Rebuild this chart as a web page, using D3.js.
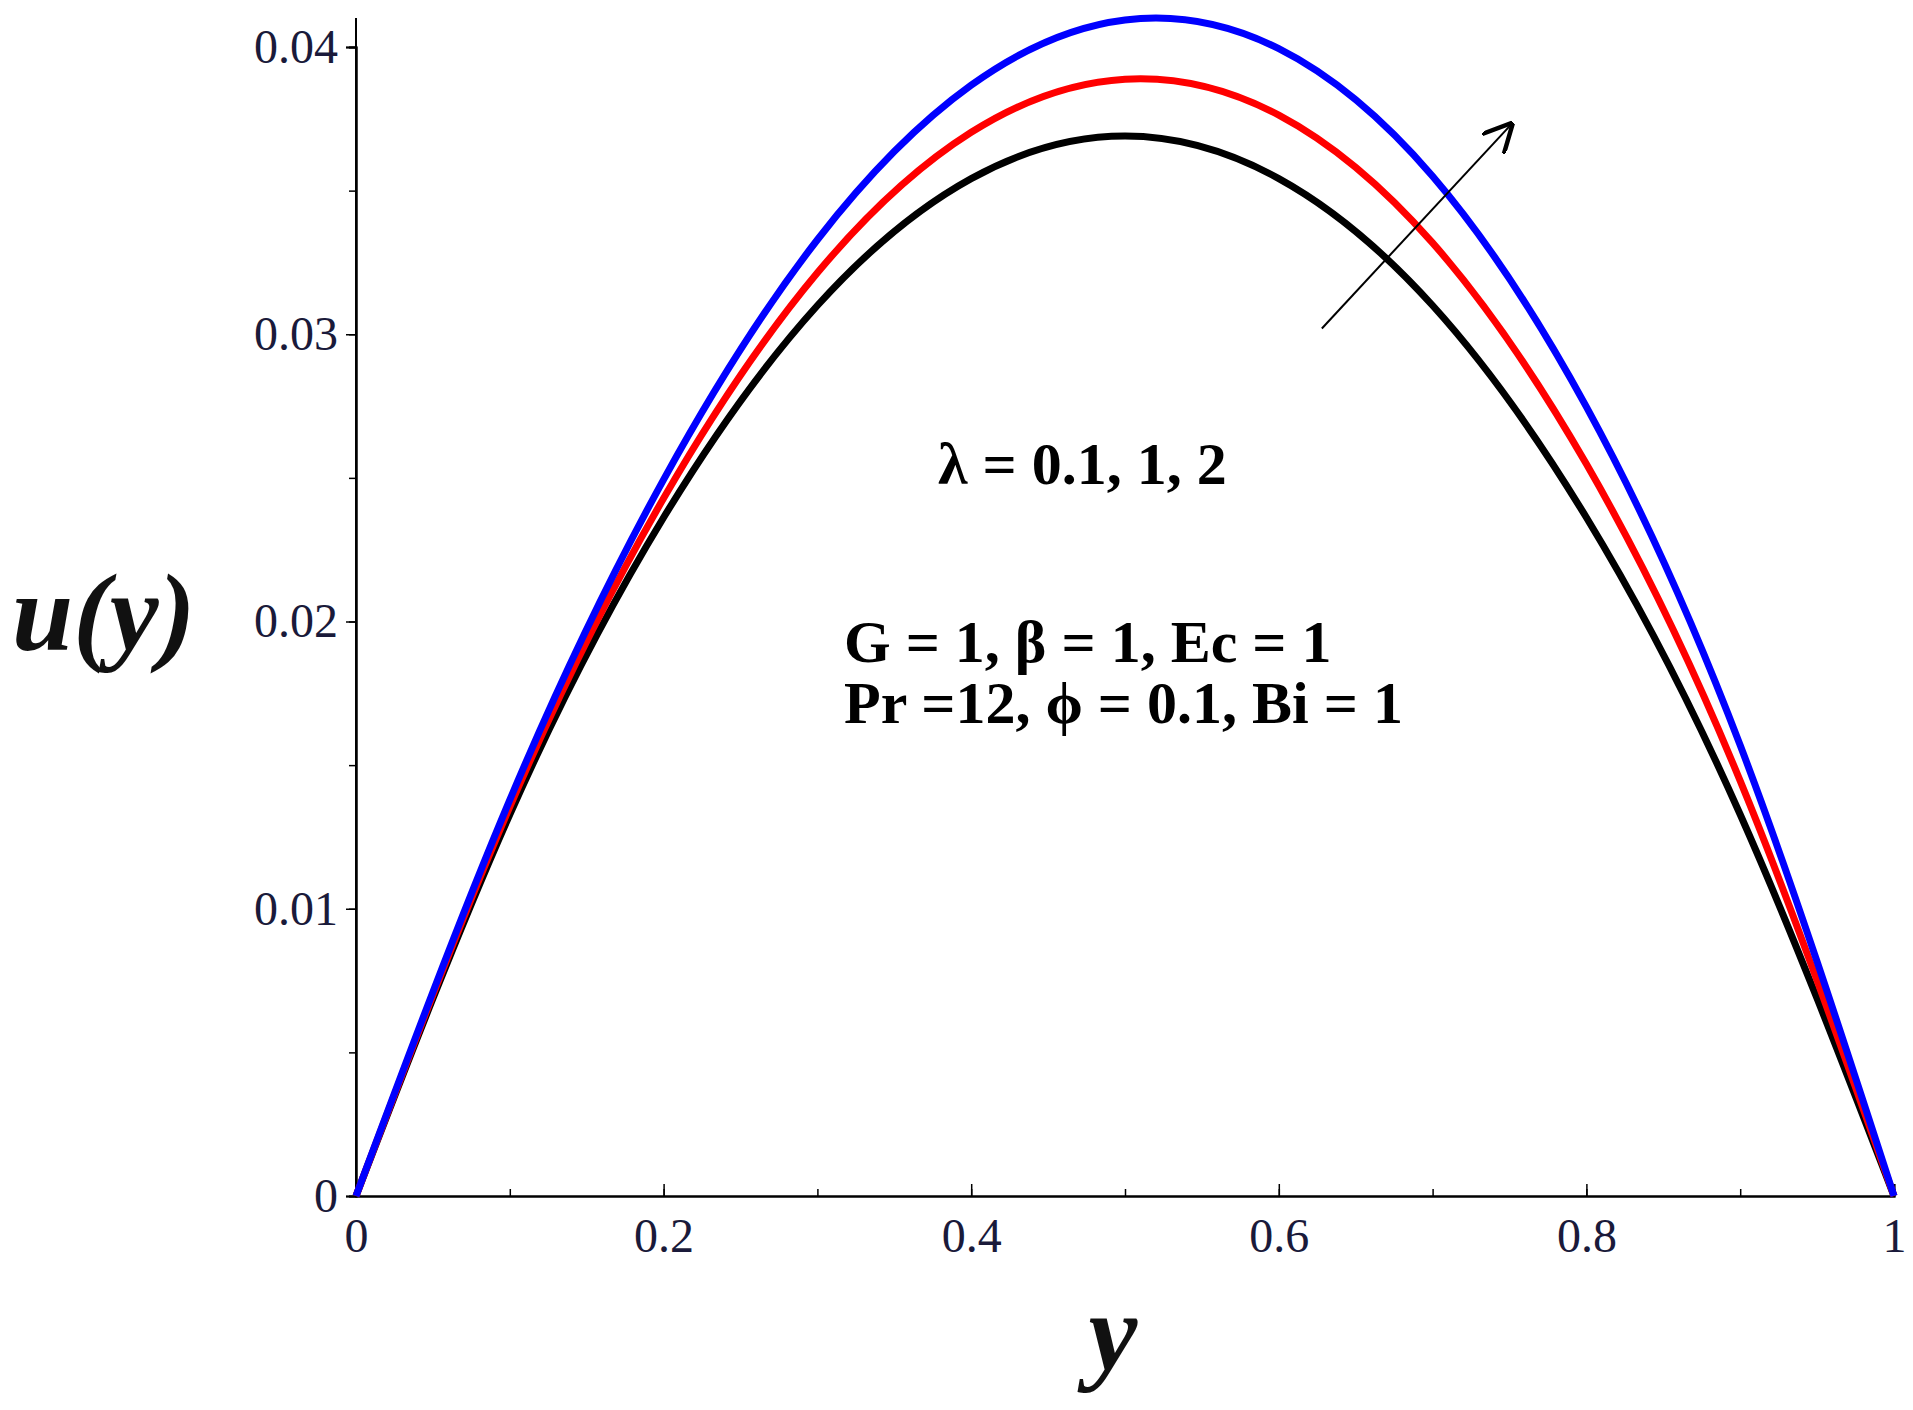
<!DOCTYPE html><html><head><meta charset="utf-8"><script src="https://d3js.org/d3.v7.min.js"></script>
<style>body{margin:0;background:#fff}</style></head><body><svg id="c" width="1913" height="1410"></svg><script>
const xs=[0,0.1,0.2,0.3,0.4,0.5,0.6,0.7,0.8,0.9,1];
const black=[0,0.01328,0.02362,0.03100,0.03542,0.0369,0.03542,0.03100,0.02362,0.01328,0];
const red=[0,0.01355,0.02429,0.03214,0.03703,0.03888,0.03763,0.03318,0.02548,0.01445,0];
const blue=[0,0.01379,0.02494,0.03329,0.03867,0.04094,0.03994,0.03550,0.02747,0.01569,0];
const xTicks=[0,0.2,0.4,0.6,0.8,1];
const xTickLabels=["0","0.2","0.4","0.6","0.8","1"];
const yTicks=[0,0.01,0.02,0.03,0.04];
const yTickLabels=["0","0.01","0.02","0.03","0.04"];
const svg=d3.select("#c");
const x=d3.scaleLinear().domain([0,1]).range([356,1894]);
const y=d3.scaleLinear().domain([0,0.04]).range([1196,47]);
const tc="#1a1a3a",ff="'Liberation Serif',serif";
svg.attr("font-family",ff);
const gx=svg.append("g").attr("transform","translate(0,1196)");
gx.call(d3.axisBottom(x).tickValues(d3.range(0,1.01,0.1)).tickSize(-7).tickFormat(""));
gx.append("g").call(d3.axisBottom(x).tickValues(xTicks).tickSize(-12).tickFormat((d,i)=>xTickLabels[i]).tickPadding(22));
const gy=svg.append("g").attr("transform","translate(356,0)");
gy.call(d3.axisLeft(y).tickValues(d3.range(0,0.0401,0.005)).tickSize(7).tickFormat(""));
gy.append("g").call(d3.axisLeft(y).tickValues(yTicks).tickSize(10).tickFormat((d,i)=>yTickLabels[i]).tickPadding(8));
svg.selectAll(".domain").attr("stroke","#000").attr("stroke-width",2);
svg.selectAll(".tick line").attr("stroke","#000").attr("stroke-width",1.5);
svg.selectAll(".tick text").attr("font-family",ff).attr("font-size",48).attr("fill",tc);
svg.append("line").attr("x1",356).attr("x2",356).attr("y1",18).attr("y2",1196).attr("stroke","#000").attr("stroke-width",2);
const line=d3.line().x((d,i)=>x(xs[i])).y(d=>y(d)).curve(d3.curveNatural);
[[black,"#000"],[red,"#f00"],[blue,"#00f"]].forEach(([s,c])=>svg.append("path").attr("d",line(s)).attr("fill","none").attr("stroke",c).attr("stroke-width",7));
svg.append("defs").append("marker").attr("id","ah").attr("viewBox","0 0 10 10").attr("refX",9).attr("refY",5).attr("markerWidth",30).attr("markerHeight",30).attr("markerUnits","userSpaceOnUse").attr("orient","auto")
 .append("path").attr("d","M0,0L10,5L0,10").attr("fill","none").attr("stroke","#000").attr("stroke-width",1.5);
svg.append("line").attr("x1",x(0.628)).attr("y1",y(0.0302)).attr("x2",x(0.751)).attr("y2",y(0.0373)).attr("stroke","#000").attr("stroke-width",2).attr("marker-end","url(#ah)");
const t=(s,px,py,sz)=>svg.append("text").attr("x",px).attr("y",py).attr("font-size",sz).attr("font-weight","bold").text(s);
t("λ = 0.1, 1, 2",938,484,60);
t("G = 1, β = 1, Ec = 1",844,662,60);
t("Pr =12, ϕ = 0.1, Bi = 1",844,723,60);
svg.append("text").attr("x",12).attr("y",650).attr("font-size",110).attr("font-weight","bold").attr("font-style","italic").attr("fill","#111").text("u(y)");
svg.append("text").attr("x",1113).attr("y",1370).attr("text-anchor","middle").attr("font-size",110).attr("font-weight","bold").attr("font-style","italic").attr("fill","#111").text("y");
</script></body></html>
